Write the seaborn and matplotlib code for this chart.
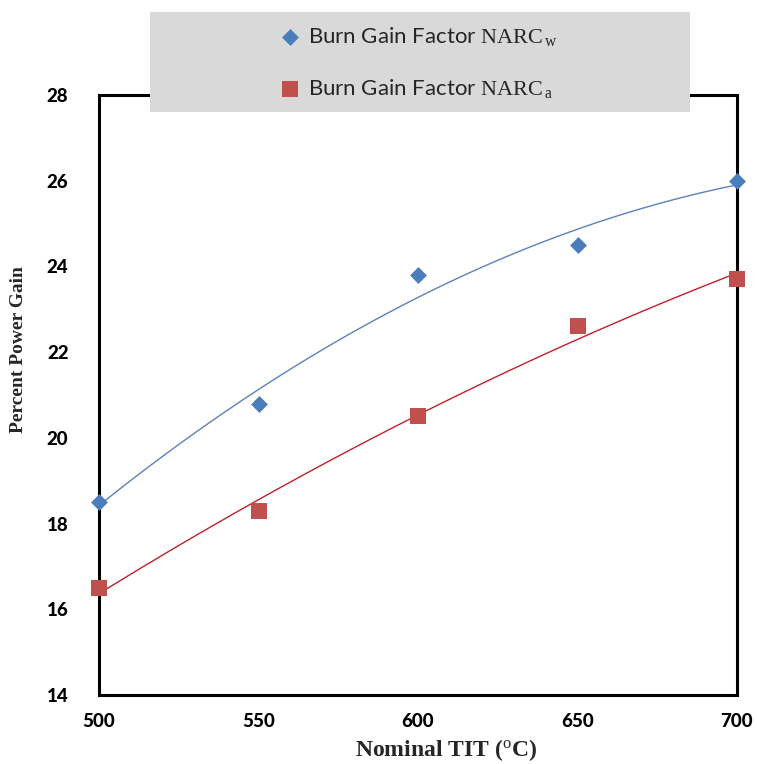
import pandas as pd
import seaborn as sns
import matplotlib.pyplot as plt
from matplotlib.patches import Rectangle

# data
temps = [500, 550, 600, 650, 700]
narc_w = [18.5, 20.8, 23.8, 24.5, 26.0]
narc_a = [16.5, 18.3, 20.5, 22.6, 23.7]
y_ticks = [14, 16, 18, 20, 22, 24, 26, 28]

label_w = r"Burn Gain Factor $\mathrm{NARC}_{\,\mathrm{w}}$"
label_a = r"Burn Gain Factor $\mathrm{NARC}_{\,\mathrm{a}}$"

df_w = pd.DataFrame({'TIT': temps, 'Gain': narc_w})
df_a = pd.DataFrame({'TIT': temps, 'Gain': narc_a})

sns.set_style("white")
plt.rcParams['font.family'] = ['Lato', 'DejaVu Sans']
plt.rcParams['mathtext.fontset'] = 'custom'
plt.rcParams['mathtext.rm'] = 'Liberation Serif'
plt.rcParams['mathtext.it'] = 'Liberation Serif:italic'
plt.rcParams['mathtext.bf'] = 'Liberation Serif:bold'

blue = '#4a7ebb'
red = '#c0504d'

fig = plt.figure(figsize=(7.57, 7.64), dpi=100)
ax = fig.add_axes([99 / 757, 69 / 764, 638 / 757, 600 / 764])

# quadratic trendlines (Excel-style polynomial fit)
sns.regplot(data=df_w, x='TIT', y='Gain', order=2, ci=None, scatter=False,
            ax=ax, line_kws={'color': '#5b82bb', 'lw': 1.0})
sns.regplot(data=df_a, x='TIT', y='Gain', order=2, ci=None, scatter=False,
            ax=ax, line_kws={'color': '#c0202a', 'lw': 1.0})

sns.scatterplot(data=df_w, x='TIT', y='Gain', marker='D', s=74, color=blue,
                linewidth=0, clip_on=False, zorder=5, ax=ax, label=label_w)
sns.scatterplot(data=df_a, x='TIT', y='Gain', marker='s', s=144, color=red,
                linewidth=0, clip_on=False, zorder=5, ax=ax, label=label_a)

ax.set_xlim(500, 700)
ax.set_ylim(14, 28)
ax.set_xticks(temps, labels=[str(t) for t in temps], fontweight='black')
ax.set_yticks(y_ticks, labels=[str(t) for t in y_ticks], fontweight='black')

for s in ax.spines.values():
    s.set_visible(True)
    s.set_color('black')
    s.set_linewidth(2.2)

ax.tick_params(axis='both', direction='in', length=5.5, width=2.2,
               labelsize=13.5, colors='black')
ax.tick_params(axis='x', pad=13)
ax.tick_params(axis='y', pad=22)

ax.set_xlabel(r"Nominal TIT ($^{\mathrm{o}}$C)", family='Liberation Serif',
              fontweight='bold', fontsize=17)
ax.set_ylabel('Percent Power Gain', family='Liberation Serif',
              fontweight='bold', fontsize=14)
ax.xaxis.set_label_coords(0.544, -0.07)
ax.yaxis.set_label_coords(-0.113, 0.575)

# grey legend panel sitting over the top of the plot
handles, labels = ax.get_legend_handles_labels()
ax.get_legend().remove()
fig.patches.append(Rectangle((150 / 757, 1 - 112 / 764), 540 / 757, 100 / 764,
                             transform=fig.transFigure, facecolor='#d9d9d9',
                             edgecolor='none', zorder=3))
leg = fig.legend(handles, labels, loc='center', bbox_to_anchor=(0.5535, 0.918),
                 frameon=False, fontsize=16, labelspacing=1.3,
                 handlelength=0.9, handletextpad=0.35, markerscale=1.0)
leg.set_zorder(4)

plt.savefig('out.png', dpi=100)
